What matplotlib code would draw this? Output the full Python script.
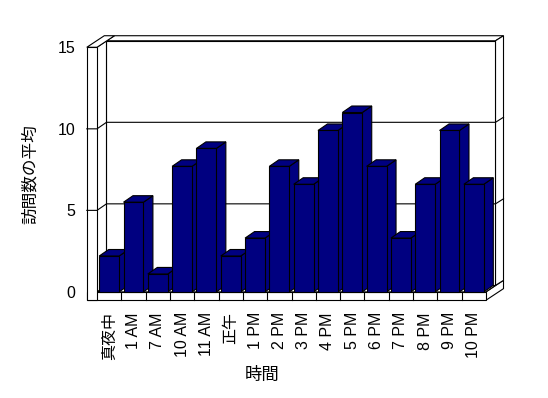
import numpy as np
import matplotlib
matplotlib.use("Agg")
import matplotlib.pyplot as plt
from matplotlib.patches import Polygon

plt.rcParams['font.family'] = ['Liberation Sans', 'Noto Sans CJK JP']

# データ: 時間帯ごとの訪問数の平均
hours = ['真夜中', '1 AM', '7 AM', '10 AM', '11 AM', '正午', '1 PM', '2 PM',
         '3 PM', '4 PM', '5 PM', '6 PM', '7 PM', '8 PM', '9 PM', '10 PM']
visits = [2.2, 5.5, 1.1, 7.7, 8.8, 2.2, 3.3, 7.7,
          6.6, 9.9, 11.0, 7.7, 3.3, 6.6, 9.9, 6.6]
yticks = [0, 5, 10, 15]

navy = '#000080'
lw = 0.8

# 奥行き (データ単位)
dx, dy = 0.39, 0.40       # 棒・奥の壁までの奥行き
ex, ey = 0.33, 0.31       # 壁の厚み
wall_w = 0.42             # 左の壁の厚み
floor_h = 0.51            # 床の厚み

fig = plt.figure(figsize=(5.48, 3.98), dpi=100)
ax = fig.add_axes([97 / 548, (398 - 291.9) / 398, 389 / 548, 244.6 / 398])
n = len(hours)
ymax = yticks[-1]
ax.set_xlim(0, n)
ax.set_ylim(0, ymax)
for s in ax.spines.values():
    s.set_visible(False)
ax.patch.set_visible(False)


def face(pts, fc='white', z=1):
    ax.add_patch(Polygon(pts, closed=True, facecolor=fc, edgecolor='black',
                         linewidth=lw, clip_on=False, zorder=z))


def line(xs, ys, z=2):
    ax.plot(xs, ys, color='black', linewidth=lw, clip_on=False, zorder=z)


# 床
face([(n, 0), (n, -floor_h), (n + dx + ex, -floor_h + dy + ey), (n + dx + ex, dy + ey)])
face([(0, 0), (n, 0), (n + dx, dy), (dx, dy)])
face([(-wall_w, -floor_h), (n, -floor_h), (n, 0), (-wall_w, 0)])
for i in range(1, n):
    line([i, i], [-floor_h, 0])

# 奥の壁
face([(dx, ymax + dy), (n + dx, ymax + dy), (n + dx + ex, ymax + dy + ey), (dx + ex, ymax + dy + ey)])
face([(n + dx, dy), (n + dx, ymax + dy), (n + dx + ex, ymax + dy + ey), (n + dx + ex, dy + ey)])
face([(dx, dy), (n + dx, dy), (n + dx, ymax + dy), (dx, ymax + dy)])

# 左の壁
face([(0, 0), (0, ymax), (dx, ymax + dy), (dx, dy)])
face([(-wall_w, ymax), (0, ymax), (dx + ex, ymax + dy + ey), (-wall_w + dx + ex, ymax + dy + ey)])
face([(-wall_w, -floor_h), (0, -floor_h), (0, ymax), (-wall_w, ymax)])

# 目盛線
for v in yticks[1:-1]:
    line([-wall_w, 0, dx, n + dx, n + dx + ex], [v, v, v + dy, v + dy, v + dy + ey])

# 棒
bw = 0.82
for i, v in enumerate(visits):
    x0 = i + (1 - bw) / 2
    z = 10 + 2 * i
    face([(x0 + bw, 0), (x0 + bw + dx, dy), (x0 + bw + dx, v + dy), (x0 + bw, v)], navy, z)
    face([(x0, v), (x0 + bw, v), (x0 + bw + dx, v + dy), (x0 + dx, v + dy)], navy, z)
bars = ax.bar(np.arange(n) + 0.5, visits, width=bw, color=navy,
              edgecolor='black', linewidth=lw)
for i, b in enumerate(bars):
    b.set_zorder(11 + 2 * i)
    b.set_clip_on(False)

ax.set_yticks(yticks)
ax.set_yticklabels([str(t) for t in yticks], fontsize=11.5)
ax.tick_params(axis='y', length=0, pad=15.5)
ax.set_xticks(np.arange(n) + 0.5)
ax.set_xticklabels(hours, rotation=90, fontsize=11.5)
ax.tick_params(axis='x', length=0, pad=14.5)

fig.text(30.5 / 548, 1 - 174 / 398, '訪問数の平均', rotation=90,
         ha='center', va='center', fontsize=12)
fig.text(262 / 548, 1 - 375 / 398, '時間', ha='center', va='center', fontsize=12.5)

fig.savefig('out.png', dpi=100, facecolor='white')
